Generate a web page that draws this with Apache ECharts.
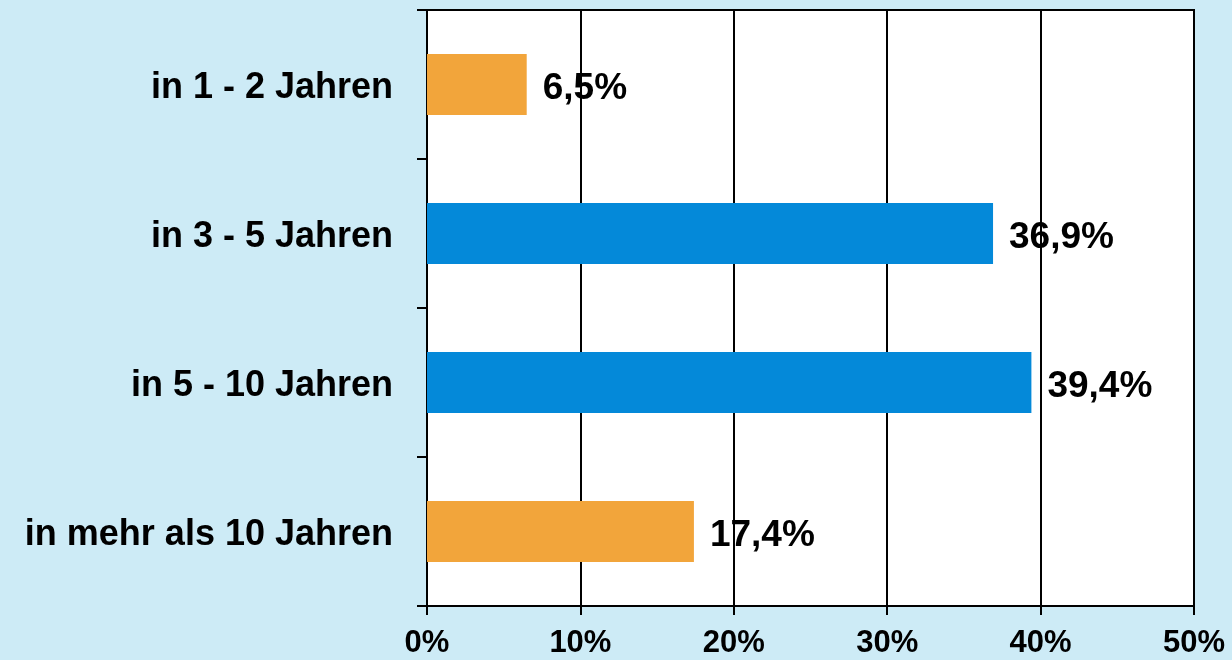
<!DOCTYPE html>
<html>
<head>
<meta charset="utf-8">
<script src="https://cdn.jsdelivr.net/npm/echarts@6/dist/echarts.min.js"></script>
<style>
html,body{margin:0;padding:0;background:#cdebf6;}
#chart{width:1232px;height:660px;}
</style>
</head>
<body>
<div id="chart"></div>
<script>
var categories = ['in 1 - 2 Jahren', 'in 3 - 5 Jahren', 'in 5 - 10 Jahren', 'in mehr als 10 Jahren'];
var values = [6.5, 36.9, 39.4, 17.4];
var groups = ['edge', 'core', 'core', 'edge'];
var xTicks = [0, 10, 20, 30, 40, 50];

var groupColors = { edge: '#f2a53b', core: '#0489d9' };
var FONT = '"Liberation Sans", Arial, sans-serif';

var chart = echarts.init(document.getElementById('chart'), null, { renderer: 'canvas' });
chart.setOption({
  backgroundColor: '#cdebf6',
  animation: false,
  grid: {
    left: 427, right: 38, top: 10, bottom: 54,
    show: true, backgroundColor: '#ffffff', borderColor: '#000000', borderWidth: 2
  },
  xAxis: {
    type: 'value',
    min: xTicks[0], max: xTicks[xTicks.length - 1], interval: xTicks[1] - xTicks[0],
    axisLine: { show: true, lineStyle: { color: '#000', width: 2 } },
    axisTick: { show: true, length: 9, lineStyle: { color: '#000', width: 2 } },
    splitLine: { show: true, lineStyle: { color: '#000', width: 2 } },
    axisLabel: {
      margin: 22, color: '#000', fontFamily: FONT, fontWeight: 'bold', fontSize: 31,
      formatter: function (v) { return v + '%'; }
    }
  },
  yAxis: {
    type: 'category',
    data: categories,
    inverse: true,
    axisLine: { show: true, lineStyle: { color: '#000', width: 2 } },
    axisTick: { show: true, length: 10, lineStyle: { color: '#000', width: 2 } },
    splitLine: { show: false },
    axisLabel: {
      margin: 34,
      formatter: function (v) { return '{c|' + v + '}'; },
      rich: {
        c: { color: '#000', fontFamily: FONT, fontWeight: 'bold', fontSize: 36, padding: [8, 0, 0, 0] }
      }
    }
  },
  series: [{
    type: 'bar',
    data: values,
    barWidth: 61,
    itemStyle: {
      color: function (p) { return groupColors[groups[p.dataIndex]]; }
    },
    label: {
      show: true, position: 'right', distance: 16, offset: [0, 4],
      color: '#000', fontFamily: FONT, fontWeight: 'bold', fontSize: 37,
      formatter: function (p) { return p.value.toFixed(1).replace('.', ',') + '%'; }
    }
  }]
});
</script>
</body>
</html>
